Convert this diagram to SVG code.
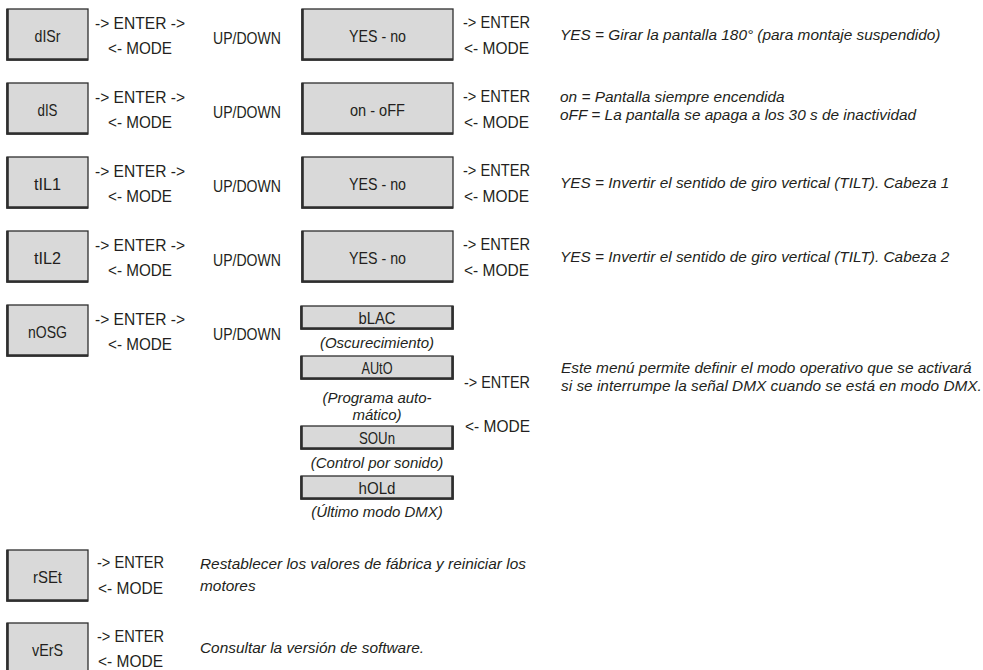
<svg xmlns="http://www.w3.org/2000/svg" width="983" height="670" viewBox="0 0 983 670">
<style>
.bx{fill:#d9d9d9;stroke:#2e2e2e;stroke-width:1.3}
.sh{fill:none;stroke:#2e2e2e;stroke-width:2.6}
.t{font-family:"Liberation Sans",Arial,sans-serif;font-size:17px;fill:#231f20}
.c{text-anchor:middle}
.i{font-family:"Liberation Sans",Arial,sans-serif;font-style:italic;font-size:15.4px;fill:#231f20}
.s{font-family:"Liberation Sans",Arial,sans-serif;font-style:italic;font-size:15px;fill:#231f20;text-anchor:middle}
</style>
<rect width="983" height="670" fill="#ffffff"/>
<g id="connectors"/>

<!-- Row 1 -->
<g id="dISr">
<rect class="bx" x="7" y="9" width="81" height="51"/><path class="sh" d="M7.5,9 V59.5 H88"/>
<text class="t c" x="47.5" y="42" textLength="26" lengthAdjust="spacingAndGlyphs">dISr</text>
</g>
<g id="dISr-nav">
<text class="t" x="95" y="29" textLength="90" lengthAdjust="spacingAndGlyphs">-&gt; ENTER -&gt;</text>
<text class="t" x="108" y="54" textLength="64" lengthAdjust="spacingAndGlyphs">&lt;- MODE</text>
<text class="t" x="213" y="44" textLength="68" lengthAdjust="spacingAndGlyphs">UP/DOWN</text>
</g>
<g id="dISr-val">
<rect class="bx" x="302" y="9" width="151" height="51"/><path class="sh" d="M302.5,9 V59.5 H453"/>
<text class="t c" x="377.5" y="42" textLength="57" lengthAdjust="spacingAndGlyphs">YES - no</text>
<text class="t" x="463" y="28" textLength="67" lengthAdjust="spacingAndGlyphs">-&gt; ENTER</text>
<text class="t" x="464" y="54" textLength="65" lengthAdjust="spacingAndGlyphs">&lt;- MODE</text>
<text class="i" x="560" y="40">YES = Girar la pantalla 180° (para montaje suspendido)</text>
</g>

<!-- Row 2 -->
<g id="dIS">
<rect class="bx" x="7" y="83" width="81" height="51"/><path class="sh" d="M7.5,83 V133.5 H88"/>
<text class="t c" x="47.5" y="116" textLength="20" lengthAdjust="spacingAndGlyphs">dIS</text>
</g>
<g id="dIS-nav">
<text class="t" x="95" y="103" textLength="90" lengthAdjust="spacingAndGlyphs">-&gt; ENTER -&gt;</text>
<text class="t" x="108" y="128" textLength="64" lengthAdjust="spacingAndGlyphs">&lt;- MODE</text>
<text class="t" x="213" y="118" textLength="68" lengthAdjust="spacingAndGlyphs">UP/DOWN</text>
</g>
<g id="dIS-val">
<rect class="bx" x="302" y="83" width="151" height="51"/><path class="sh" d="M302.5,83 V133.5 H453"/>
<text class="t c" x="377.5" y="116" textLength="55" lengthAdjust="spacingAndGlyphs">on - oFF</text>
<text class="t" x="463" y="102" textLength="67" lengthAdjust="spacingAndGlyphs">-&gt; ENTER</text>
<text class="t" x="464" y="128" textLength="65" lengthAdjust="spacingAndGlyphs">&lt;- MODE</text>
<text class="i" x="560" y="102">on = Pantalla siempre encendida</text>
<text class="i" x="560" y="120">oFF = La pantalla se apaga a los 30 s de inactividad</text>
</g>

<!-- Row 3 -->
<g id="tIL1">
<rect class="bx" x="7" y="157" width="81" height="51"/><path class="sh" d="M7.5,157 V207.5 H88"/>
<text class="t c" x="47.5" y="190" textLength="27" lengthAdjust="spacingAndGlyphs">tIL1</text>
</g>
<g id="tIL1-nav">
<text class="t" x="95" y="177" textLength="90" lengthAdjust="spacingAndGlyphs">-&gt; ENTER -&gt;</text>
<text class="t" x="108" y="202" textLength="64" lengthAdjust="spacingAndGlyphs">&lt;- MODE</text>
<text class="t" x="213" y="192" textLength="68" lengthAdjust="spacingAndGlyphs">UP/DOWN</text>
</g>
<g id="tIL1-val">
<rect class="bx" x="302" y="157" width="151" height="51"/><path class="sh" d="M302.5,157 V207.5 H453"/>
<text class="t c" x="377.5" y="190" textLength="57" lengthAdjust="spacingAndGlyphs">YES - no</text>
<text class="t" x="463" y="176" textLength="67" lengthAdjust="spacingAndGlyphs">-&gt; ENTER</text>
<text class="t" x="464" y="202" textLength="65" lengthAdjust="spacingAndGlyphs">&lt;- MODE</text>
<text class="i" x="560" y="188">YES = Invertir el sentido de giro vertical (TILT). Cabeza 1</text>
</g>

<!-- Row 4 -->
<g id="tIL2">
<rect class="bx" x="7" y="231" width="81" height="51"/><path class="sh" d="M7.5,231 V281.5 H88"/>
<text class="t c" x="47.5" y="264" textLength="27" lengthAdjust="spacingAndGlyphs">tIL2</text>
</g>
<g id="tIL2-nav">
<text class="t" x="95" y="251" textLength="90" lengthAdjust="spacingAndGlyphs">-&gt; ENTER -&gt;</text>
<text class="t" x="108" y="276" textLength="64" lengthAdjust="spacingAndGlyphs">&lt;- MODE</text>
<text class="t" x="213" y="266" textLength="68" lengthAdjust="spacingAndGlyphs">UP/DOWN</text>
</g>
<g id="tIL2-val">
<rect class="bx" x="302" y="231" width="151" height="51"/><path class="sh" d="M302.5,231 V281.5 H453"/>
<text class="t c" x="377.5" y="264" textLength="57" lengthAdjust="spacingAndGlyphs">YES - no</text>
<text class="t" x="463" y="250" textLength="67" lengthAdjust="spacingAndGlyphs">-&gt; ENTER</text>
<text class="t" x="464" y="276" textLength="65" lengthAdjust="spacingAndGlyphs">&lt;- MODE</text>
<text class="i" x="560" y="262">YES = Invertir el sentido de giro vertical (TILT). Cabeza 2</text>
</g>

<!-- Row 5 -->
<g id="nOSG">
<rect class="bx" x="7" y="305" width="81" height="51"/><path class="sh" d="M7.5,305 V355.5 H88"/>
<text class="t c" x="47.5" y="338" textLength="39" lengthAdjust="spacingAndGlyphs">nOSG</text>
</g>
<g id="nOSG-nav">
<text class="t" x="95" y="325" textLength="90" lengthAdjust="spacingAndGlyphs">-&gt; ENTER -&gt;</text>
<text class="t" x="108" y="350" textLength="64" lengthAdjust="spacingAndGlyphs">&lt;- MODE</text>
<text class="t" x="213" y="340" textLength="68" lengthAdjust="spacingAndGlyphs">UP/DOWN</text>
</g>
<g id="bLAC">
<rect class="bx" x="301" y="306" width="152" height="23"/><path class="sh" d="M301.5,306 V328.5 H452.5 V306"/>
<text class="t c" x="377" y="323.5" textLength="37" lengthAdjust="spacingAndGlyphs">bLAC</text>
<text class="s" x="377" y="348">(Oscurecimiento)</text>
</g>
<g id="AUtO">
<rect class="bx" x="301" y="356" width="152" height="23"/><path class="sh" d="M301.5,356 V378.5 H452.5 V356"/>
<text class="t c" x="377" y="373.5" textLength="31" lengthAdjust="spacingAndGlyphs">AUtO</text>
<text class="s" x="377" y="403">(Programa auto-</text>
<text class="s" x="377" y="420">mático)</text>
</g>
<g id="SOUn">
<rect class="bx" x="301" y="426" width="152" height="23"/><path class="sh" d="M301.5,426 V448.5 H452.5 V426"/>
<text class="t c" x="377" y="443.5" textLength="36" lengthAdjust="spacingAndGlyphs">SOUn</text>
<text class="s" x="377" y="468">(Control por sonido)</text>
</g>
<g id="hOLd">
<rect class="bx" x="301" y="476" width="152" height="23"/><path class="sh" d="M301.5,476 V498.5 H452.5 V476"/>
<text class="t c" x="377" y="493.5" textLength="37" lengthAdjust="spacingAndGlyphs">hOLd</text>
<text class="s" x="377" y="517">(Último modo DMX)</text>
</g>
<g id="nOSG-desc">
<text class="t" x="464" y="388" textLength="66" lengthAdjust="spacingAndGlyphs">-&gt; ENTER</text>
<text class="t" x="465" y="432" textLength="65" lengthAdjust="spacingAndGlyphs">&lt;- MODE</text>
<text class="i" x="561" y="373">Este menú permite definir el modo operativo que se activará</text>
<text class="i" x="561" y="391">si se interrumpe la señal DMX cuando se está en modo DMX.</text>
</g>

<!-- Row 6 -->
<g id="rSEt">
<rect class="bx" x="7" y="550" width="81" height="51"/><path class="sh" d="M7.5,550 V600.5 H88"/>
<text class="t c" x="47.5" y="583" textLength="29" lengthAdjust="spacingAndGlyphs">rSEt</text>
<text class="t" x="97" y="568" textLength="67" lengthAdjust="spacingAndGlyphs">-&gt; ENTER</text>
<text class="t" x="98" y="594" textLength="65" lengthAdjust="spacingAndGlyphs">&lt;- MODE</text>
<text class="i" x="200" y="569">Restablecer los valores de fábrica y reiniciar los</text>
<text class="i" x="200" y="591">motores</text>
</g>

<!-- Row 7 -->
<g id="vErS">
<rect class="bx" x="7" y="623" width="81" height="51"/><path class="sh" d="M7.5,623 V673.5 H88"/>
<text class="t c" x="47.5" y="656" textLength="31" lengthAdjust="spacingAndGlyphs">vErS</text>
<text class="t" x="97" y="642" textLength="67" lengthAdjust="spacingAndGlyphs">-&gt; ENTER</text>
<text class="t" x="98" y="667" textLength="65" lengthAdjust="spacingAndGlyphs">&lt;- MODE</text>
<text class="i" x="200" y="653">Consultar la versión de software.</text>
</g>
</svg>
